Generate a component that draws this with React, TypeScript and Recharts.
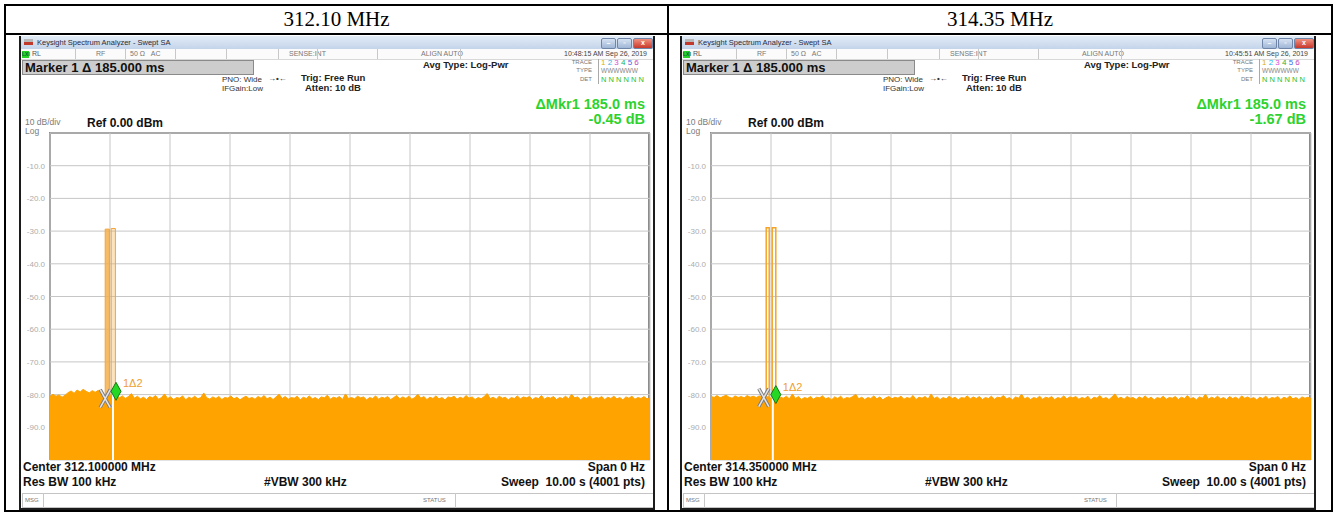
import React from "react";
import {
  ComposedChart,
  Area,
  Line,
  Scatter,
  XAxis,
  YAxis,
  CartesianGrid,
  ReferenceLine,
} from "recharts";

const SANS = "'Liberation Sans', Arial, sans-serif";
const SERIF = "'Liberation Serif', 'Times New Roman', serif";

const SWEEP_S = 10;
const DB_TICKS = [0, -10, -20, -30, -40, -50, -60, -70, -80, -90, -100];
const TIME_TICKS = [0, 1, 2, 3, 4, 5, 6, 7, 8, 9, 10];

const panelTitles = ["312.10 MHz", "314.35 MHz"];
const centerLabels = ["Center 312.100000 MHz", "Center 314.350000 MHz"];
const clockLabels = ["10:48:15 AM Sep 26, 2019", "10:45:51 AM Sep 26, 2019"];
const deltaDbLabels = ["-0.45 dB", "-1.67 dB"];
const traceDigitColors = ["#e0b000", "#2cb5e8", "#d94ad9", "#28b048", "#3a6ee8", "#c03cc0"];

// noise floor envelope, dBm, evenly spread over the 10 s sweep
const noise312 = [
  -80.6, -79.9, -80.5, -80.1, -80.8, -80.2, -79.4, -78.9, -79.6, -78.6,
  -79.2, -78.4, -79.0, -79.5, -78.8, -79.3, -78.7, -79.6, -80.3, -80.9,
  -80.1, -80.7, -80.2, -81.0, -80.4, -81.2, -80.6, -79.7, -81.1, -80.5,
  -81.3, -80.8, -81.5, -80.6, -81.0, -80.3, -81.4, -80.9, -79.8, -81.2,
  -80.7, -81.5, -80.9, -81.1, -80.4, -81.6, -80.8, -81.2, -80.5, -81.3,
  -80.9, -79.5, -81.0, -81.4, -80.7, -81.2, -80.6, -81.5, -80.9, -81.1,
  -80.4, -81.3, -80.8, -81.6, -81.0, -80.5, -81.2, -80.9, -81.4, -80.6,
  -81.1, -80.3, -81.3, -80.8, -81.5, -80.7, -79.9, -81.2, -80.6, -81.4,
  -80.9, -81.1, -80.5, -81.6, -80.8, -81.2, -80.4, -81.3, -80.9, -81.5,
  -80.7, -81.0, -80.2, -81.4, -80.8, -81.1, -80.6, -81.5, -79.8, -81.2,
  -80.9, -81.3, -80.5, -81.0, -80.7, -81.6, -80.9, -81.2, -80.4, -81.4,
  -80.8, -81.1, -80.6, -81.5, -80.9, -80.3, -81.3, -80.7, -81.2, -80.5,
  -81.4, -80.9, -79.9, -81.1, -80.6, -81.5, -80.8, -81.2, -80.4, -81.3,
  -80.9, -81.6, -80.7, -81.0, -80.5, -81.4, -80.8, -81.2, -80.3, -81.1,
  -80.7, -81.5, -80.9, -81.3, -80.6, -79.7, -81.2, -80.8, -81.4, -80.5,
  -81.1, -80.8, -81.6, -80.9, -81.2, -80.4, -81.3, -80.7, -81.0, -80.6,
  -81.5, -80.9, -81.2, -80.3, -81.4, -80.8, -81.1, -80.6, -81.5, -80.9,
  -81.2, -80.5, -81.3, -79.9, -81.0, -80.7, -81.6, -80.8, -81.2, -80.4,
  -81.4, -80.9, -81.1, -80.6, -81.5, -80.8, -81.2, -80.5, -81.3, -80.9,
  -81.6, -80.7, -81.1, -80.5, -81.4, -80.9, -81.2, -80.6, -81.3, -81.0,
];
const noise314 = [
  -80.5, -80.9, -80.3, -81.0, -80.6, -80.2, -80.8, -81.1, -80.4, -80.9,
  -80.6, -81.0, -80.3, -80.8, -80.5, -80.9, -80.4, -80.7, -80.9, -80.6,
  -81.2, -80.7, -81.4, -80.8, -81.1, -80.5, -81.3, -79.8, -81.2, -80.6,
  -81.5, -80.9, -81.2, -80.6, -81.4, -80.8, -81.0, -80.4, -81.3, -80.9,
  -81.6, -80.7, -81.2, -80.5, -81.4, -80.9, -81.1, -80.6, -79.9, -81.3,
  -80.8, -81.5, -80.9, -81.2, -80.4, -81.3, -80.7, -81.6, -81.0, -80.6,
  -81.3, -80.8, -81.1, -80.5, -81.4, -80.9, -81.2, -80.3, -81.5, -80.8,
  -81.1, -80.6, -81.4, -79.8, -81.2, -80.7, -81.5, -80.9, -81.3, -80.5,
  -81.2, -80.8, -81.6, -80.9, -81.1, -80.4, -81.3, -80.7, -81.2, -80.6,
  -81.5, -80.9, -81.2, -80.5, -81.4, -80.8, -81.0, -80.3, -81.3, -80.9,
  -81.6, -80.7, -81.1, -79.9, -81.3, -80.8, -81.5, -80.9, -81.2, -80.5,
  -81.4, -80.8, -81.1, -80.6, -81.5, -80.9, -81.2, -80.4, -81.3, -80.7,
  -81.0, -80.6, -81.4, -80.9, -81.2, -80.5, -81.6, -80.8, -81.1, -80.3,
  -81.3, -80.9, -81.5, -80.7, -79.8, -81.2, -80.8, -81.4, -80.6, -81.1,
  -80.9, -81.5, -80.7, -81.2, -80.4, -81.3, -80.8, -81.6, -80.9, -81.2,
  -80.5, -81.4, -80.9, -81.1, -80.6, -81.5, -80.8, -81.2, -80.3, -81.3,
  -80.9, -81.6, -80.7, -81.1, -79.9, -81.4, -80.8, -81.2, -80.5, -81.3,
  -80.9, -81.5, -80.6, -81.2, -80.8, -81.4, -80.4, -81.1, -80.7, -81.3,
  -80.9, -81.6, -80.8, -81.2, -80.5, -81.4, -80.9, -81.1, -80.6, -81.5,
  -80.8, -81.2, -80.4, -81.3, -80.9, -81.5, -80.7, -81.1, -80.8, -81.2,
];

// burst pulses: [start s, end s, peak dBm]
const pulses312 = [
  [0.92, 0.99, -29.4],
  [1.02, 1.09, -29.2],
];
const pulses314 = [
  [0.92, 0.97, -29.0],
  [1.02, 1.08, -29.0],
];

// markers: reference (X) and delta (diamond)
const refMk312 = { t: 0.92, v: -81.2 };
const dltMk312 = { t: 1.1, v: -79.0 };
const cursorT312 = 1.05;
const refMk314 = { t: 0.88, v: -80.9 };
const dltMk314 = { t: 1.08, v: -80.0 };
const cursorT314 = 1.03;

const panels = [
  { noise: noise312, pulses: pulses312, filled: true, refMk: refMk312, dltMk: dltMk312, cursorT: cursorT312 },
  { noise: noise314, pulses: pulses314, filled: false, refMk: refMk314, dltMk: dltMk314, cursorT: cursorT314 },
];

function pulseRows(p: number[], floor: number) {
  return [
    { t: p[0], v: floor },
    { t: p[0], v: p[2] },
    { t: p[1], v: p[2] },
    { t: p[1], v: floor },
  ];
}

function DbTick(props: any) {
  const { x, y, payload } = props;
  if (payload.value === 0 || payload.value === -100) return null;
  return (
    <text x={x} y={y} dy={3} textAnchor="end" fontSize={8} fill="#acacac" fontFamily={SANS}>
      {Number(payload.value).toFixed(1)}
    </text>
  );
}

function RefX(props: any) {
  const { cx, cy } = props;
  const d = `M${cx - 5},${cy - 9}L${cx + 5},${cy + 9}M${cx + 5},${cy - 9}L${cx - 5},${cy + 9}`;
  return (
    <g>
      <path d={d} stroke="#7d7d7d" strokeWidth={3.5} />
      <path d={d} stroke="#e4e4e4" strokeWidth={1.5} />
    </g>
  );
}

function DeltaDiamond(props: any) {
  const { cx, cy } = props;
  return (
    <g>
      <polygon
        points={`${cx},${cy - 9} ${cx + 5},${cy} ${cx},${cy + 9} ${cx - 5},${cy}`}
        fill="#24d824"
        stroke="#137a13"
        strokeWidth={1}
      />
      <text x={cx + 7} y={cy - 4} fontSize={11} fill="#f0a030" fontFamily={SANS}>
        1Δ2
      </text>
    </g>
  );
}

function Trace({ noise, pulses, filled, refMk, dltMk, cursorT }: any) {
  const floor = DB_TICKS[DB_TICKS.length - 1];
  const noiseData = noise.map((v: number, i: number) => ({ t: (i * SWEEP_S) / (noise.length - 1), v }));
  return (
    <ComposedChart width={630} height={337} margin={{ top: 5, right: 1, bottom: 5, left: 0 }}>
      <CartesianGrid stroke="#c6c6c6" strokeWidth={1} />
      <XAxis type="number" dataKey="t" domain={[0, SWEEP_S]} ticks={TIME_TICKS} hide allowDataOverflow />
      <YAxis
        type="number"
        domain={[floor, 0]}
        ticks={DB_TICKS}
        interval={0}
        width={29}
        axisLine={false}
        tickLine={false}
        tickSize={0}
        tickMargin={5}
        tick={<DbTick />}
        allowDataOverflow
      />
      {pulses.map((p: number[], k: number) =>
        filled ? (
          <Area
            key={`p${k}`}
            data={pulseRows(p, floor)}
            dataKey="v"
            type="linear"
            baseValue={floor}
            fill="#f4b04c"
            fillOpacity={k === 0 ? 0.85 : 0.35}
            stroke="#f2a436"
            strokeWidth={1}
            isAnimationActive={false}
          />
        ) : (
          <Line
            key={`p${k}`}
            data={pulseRows(p, -81)}
            dataKey="v"
            type="linear"
            stroke="#f5a428"
            strokeWidth={1.5}
            dot={false}
            isAnimationActive={false}
          />
        )
      )}
      <Area
        data={noiseData}
        dataKey="v"
        type="linear"
        baseValue={floor}
        fill="#ffa300"
        fillOpacity={1}
        stroke="#ffa300"
        strokeWidth={1}
        isAnimationActive={false}
      />
      <ReferenceLine
        segment={[
          { x: cursorT, y: dltMk.v },
          { x: cursorT, y: floor },
        ]}
        stroke="#ffffff"
        strokeWidth={2}
      />
      <Scatter data={[refMk]} dataKey="v" shape={<RefX />} isAnimationActive={false} />
      <Scatter data={[dltMk]} dataKey="v" shape={<DeltaDiamond />} isAnimationActive={false} />
    </ComposedChart>
  );
}

function T({ x, r, y, s, w = 400, c = "#000", f = SANS, children }: any) {
  return (
    <div
      style={{
        position: "absolute",
        left: x,
        right: r,
        top: y - s * 0.6,
        fontSize: s,
        lineHeight: `${s * 1.2}px`,
        height: s * 1.2,
        fontWeight: w,
        color: c,
        fontFamily: f,
        whiteSpace: "pre",
      }}
    >
      {children}
    </div>
  );
}

function Sep({ x, top, h }: any) {
  return <div style={{ position: "absolute", left: x, top, width: 1, height: h, background: "#c8c8c8" }} />;
}

function WinBtn({ x, w, bg, label }: any) {
  return (
    <div
      style={{
        position: "absolute",
        left: x,
        top: 2,
        width: w,
        height: 9,
        borderRadius: 2,
        background: bg,
        border: "1px solid #6f86a8",
        color: "#fff",
        fontSize: 7,
        lineHeight: "8px",
        textAlign: "center",
        fontFamily: SANS,
        fontWeight: 700,
      }}
    >
      {label}
    </div>
  );
}

function Analyzer({ idx }: { idx: number }) {
  const p = panels[idx];
  const left = 19 + idx * 661;
  return (
    <div
      style={{
        position: "absolute",
        left,
        top: 36,
        width: 636,
        height: 474,
        background: "#ffffff",
        borderLeft: "2px solid #1c1c1c",
        borderRight: "2px solid #1c1c1c",
        borderBottom: "2px solid #1c1c1c",
        boxSizing: "border-box",
        overflow: "hidden",
      }}
    >
      {/* title bar */}
      <div style={{ position: "absolute", left: 0, top: 0, width: 636, height: 13, background: "linear-gradient(#e3ecf7, #c3d4ea)" }} />
      <div style={{ position: "absolute", left: 3, top: 3, width: 9, height: 6, background: "linear-gradient(#b8b8b8 50%, #c0392b 50%)" }} />
      <T x={16} y={6.5} s={7.5} c="#2a2a3a">Keysight Spectrum Analyzer - Swept SA</T>
      <WinBtn x={580} w={13} bg="linear-gradient(#d6e2f2, #9fb6d6)" label="–" />
      <WinBtn x={596} w={13} bg="linear-gradient(#d6e2f2, #9fb6d6)" label="▫" />
      <WinBtn x={612} w={18} bg="linear-gradient(#f09080, #c8382a)" label="x" />

      {/* status row */}
      <div style={{ position: "absolute", left: 0, top: 13, width: 636, height: 10, background: "#fbfbfb", borderBottom: "1px solid #d8d8d8" }} />
      <div style={{ position: "absolute", left: 1, top: 14.5, width: 7, height: 7, background: "#28d028", color: "#063", fontSize: 5, lineHeight: "7px", fontFamily: SANS, fontWeight: 700 }}>LXI</div>
      <T x={11} y={18.5} s={7} c="#555">RL</T>
      <Sep x={54} top={13} h={10} />
      <T x={75} y={18.5} s={7} c="#777">RF</T>
      <Sep x={104} top={13} h={10} />
      <T x={109} y={18.5} s={7} c="#777">50 Ω   AC</T>
      <Sep x={154} top={13} h={10} />
      <Sep x={205} top={13} h={10} />
      <Sep x={257} top={13} h={10} />
      <T x={268} y={18.5} s={7} c="#777">SENSE:INT</T>
      <Sep x={296} top={13} h={10} />
      <Sep x={356} top={13} h={10} />
      <T x={400} y={18.5} s={7} c="#777">ALIGN AUTO</T>
      <Sep x={439} top={13} h={10} />
      <T r={6} y={18.5} s={7} c="#444">{clockLabels[idx]}</T>

      {/* marker readout */}
      <div style={{ position: "absolute", left: 1, top: 24, width: 232, height: 15, background: "#cdcdcd", border: "1px solid #8a8a8a", boxSizing: "border-box" }} />
      <T x={4} y={31.5} s={13} w={700} c="#111">Marker 1 Δ 185.000 ms</T>
      <T x={402} y={28.5} s={9.5} w={700} c="#222">Avg Type: Log-Pwr</T>
      <T r={61} y={26.5} s={6} c="#777">TRACE</T>
      <T r={61} y={35} s={6} c="#777">TYPE</T>
      <T r={61} y={43.5} s={6} c="#777">DET</T>
      <div style={{ position: "absolute", left: 577, top: 23, width: 1, height: 25, background: "#aaa" }} />
      <div style={{ position: "absolute", left: 580, top: 22, fontSize: 8, lineHeight: "9px", fontFamily: SANS, whiteSpace: "pre" }}>
        {traceDigitColors.map((c, i) => (
          <span key={i} style={{ color: c }}>{`${i + 1} `}</span>
        ))}
      </div>
      <T x={580} y={35} s={6.5} c="#888">WWWWWW</T>
      <T x={580} y={43.5} s={7.5} c="#2cbf2c">N N N N N N</T>

      <T x={201} y={44} s={8} c="#333">PNO: Wide</T>
      <T x={201} y={53} s={8} c="#333">IFGain:Low</T>
      <T x={247} y={43} s={8} w={700} c="#333">→•←</T>
      <T x={280} y={42} s={9.5} w={700} c="#222">Trig: Free Run</T>
      <T x={284} y={52} s={9.5} w={700} c="#222">Atten: 10 dB</T>

      <T r={8} y={69} s={14.5} w={700} c="#2ed22e">ΔMkr1 185.0 ms</T>
      <T r={8} y={84} s={14.5} w={700} c="#2ed22e">{deltaDbLabels[idx]}</T>

      <T x={4} y={86} s={8.5} c="#7a7a7a">10 dB/div</T>
      <T x={66} y={87.5} s={12} w={700} c="#111">Ref 0.00 dBm</T>
      <T x={4} y={95.5} s={8.5} c="#7a7a7a">Log</T>

      {/* plot frame */}
      <div
        style={{
          position: "absolute",
          left: 28,
          top: 96,
          width: 601,
          height: 328,
          borderLeft: "2px solid #8c8c8c",
          borderTop: "2px solid #8c8c8c",
          borderRight: "2px solid #8c8c8c",
          boxSizing: "border-box",
        }}
      />
      <div style={{ position: "absolute", left: 0, top: 92 }}>
        <Trace {...p} />
      </div>

      <T x={2} y={431} s={12} w={700} c="#111">{centerLabels[idx]}</T>
      <T r={8} y={431} s={12} w={700} c="#111">Span 0 Hz</T>
      <T x={2} y={446} s={12} w={700} c="#111">Res BW 100 kHz</T>
      <T x={243} y={446} s={12} w={700} c="#111">#VBW 300 kHz</T>
      <T r={8} y={446} s={12} w={700} c="#111">{"Sweep  10.00 s (4001 pts)"}</T>

      {/* message bar */}
      <div style={{ position: "absolute", left: 1, top: 457, width: 632, height: 15, border: "1px solid #c4c4c4", boxSizing: "border-box", background: "#fff" }} />
      <T x={4} y={464.5} s={6} c="#777">MSG</T>
      <Sep x={22} top={457} h={15} />
      <T x={402} y={464.5} s={6} c="#777">STATUS</T>
      <Sep x={434} top={457} h={15} />
    </div>
  );
}

export default function App() {
  return (
    <div style={{ position: "absolute", left: 0, top: 0, width: 1337, height: 513, background: "#ffffff", overflow: "hidden" }}>
      {/* table frame */}
      <div style={{ position: "absolute", left: 4, top: 4, width: 1329, height: 508, border: "2px solid #000", boxSizing: "border-box" }} />
      <div style={{ position: "absolute", left: 4, top: 33, width: 1329, height: 2, background: "#000" }} />
      <div style={{ position: "absolute", left: 667, top: 4, width: 2, height: 508, background: "#000" }} />
      <div style={{ position: "absolute", left: 6, top: 6, width: 661, height: 27, textAlign: "center", fontFamily: SERIF, fontSize: 21, lineHeight: "27px" }}>
        {panelTitles[0]}
      </div>
      <div style={{ position: "absolute", left: 669, top: 6, width: 662, height: 27, textAlign: "center", fontFamily: SERIF, fontSize: 21, lineHeight: "27px" }}>
        {panelTitles[1]}
      </div>
      <Analyzer idx={0} />
      <Analyzer idx={1} />
    </div>
  );
}
